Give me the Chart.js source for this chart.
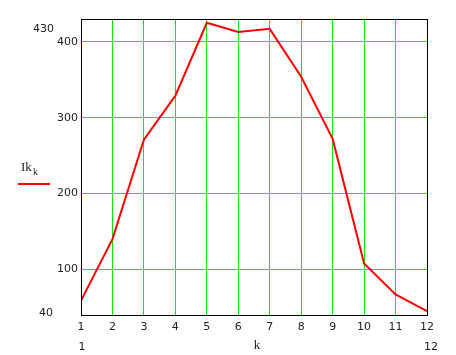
<!DOCTYPE html>
<html>
<head>
<meta charset="utf-8">
<script src="https://cdn.jsdelivr.net/npm/chart.js@4/dist/chart.umd.min.js"></script>
<style>
  html, body { margin: 0; padding: 0; background: #fff; }
  #wrap { width: 456px; height: 355px; position: relative; }
</style>
</head>
<body>
<div id="wrap"><canvas id="myChart" width="456" height="355"></canvas></div>
<script>
// data
var kValues = [1, 2, 3, 4, 5, 6, 7, 8, 9, 10, 11, 12];
var ikValues = [59, 140, 271, 329, 425, 413, 417, 354, 272, 108, 67, 45];
var yTicks = [100, 200, 300, 400];
var yMin = 40, yMax = 430;
var xMin = 1, xMax = 12;

var tickFont = { family: 'DejaVu Sans', size: 11 };
var textColor = '#222';
var gridColor = '#00ee00';

var points = [];
for (var i = 0; i < kValues.length; i++) {
    points.push({ x: kValues[i], y: ikValues[i] });
}

// draws the box, the limit labels, the axis name and the legend
var mathcadExtras = {
    id: 'mathcadExtras',
    afterDraw: function(chart) {
        var ctx = chart.ctx;
        var a = chart.chartArea;
        ctx.save();
        ctx.strokeStyle = '#000';
        ctx.lineWidth = 1;
        ctx.strokeRect(Math.round(a.left) + 0.5, Math.round(a.top) + 0.5,
            Math.round(a.right - a.left), Math.round(a.bottom - a.top));

        ctx.fillStyle = textColor;
        ctx.font = '11px "DejaVu Sans"';
        ctx.textBaseline = 'middle';
        ctx.textAlign = 'right';
        ctx.fillText(String(yMax), a.left - 27, a.top + 10);
        ctx.fillText(String(yMin), a.left - 28, a.bottom - 2);
        ctx.textAlign = 'center';
        ctx.fillText(String(xMin), a.left + 1, a.bottom + 32);
        ctx.fillText(String(xMax), a.right + 4, a.bottom + 32);

        ctx.font = '13px "Liberation Serif"';
        ctx.fillText('k', (a.left + a.right) / 2 + 3, a.bottom + 31);

        // legend
        ctx.textAlign = 'left';
        ctx.fillText('Ik', 21, 168);
        ctx.font = '10px "Liberation Serif"';
        ctx.fillText('k', 33, 172);
        ctx.strokeStyle = '#ff0000';
        ctx.lineWidth = 2;
        ctx.beginPath();
        ctx.moveTo(18, 184);
        ctx.lineTo(50, 184);
        ctx.stroke();
        ctx.restore();
    }
};

var ctx = document.getElementById('myChart').getContext('2d');
var chart = new Chart(ctx, {
    type: 'line',
    data: {
        datasets: [{
            label: 'Ik_k',
            data: points,
            borderColor: '#ff0000',
            borderWidth: 2,
            pointRadius: 0,
            tension: 0,
            fill: false
        }]
    },
    options: {
        responsive: false,
        animation: false,
        layout: { padding: { left: 0, top: 19, right: 29, bottom: 0 } },
        plugins: {
            legend: { display: false },
            tooltip: { enabled: false }
        },
        scales: {
            x: {
                type: 'linear',
                min: xMin,
                max: xMax,
                grid: { color: gridColor, lineWidth: 1, drawTicks: false },
                border: { display: false },
                ticks: {
                    stepSize: 1,
                    padding: 6,
                    color: textColor,
                    font: tickFont,
                    maxRotation: 0
                },
                afterFit: function(scale) { scale.height = 40; }
            },
            y: {
                min: yMin,
                max: yMax,
                grid: { color: gridColor, lineWidth: 1, drawTicks: false },
                border: { display: false },
                ticks: {
                    padding: 3,
                    color: textColor,
                    font: tickFont
                },
                afterBuildTicks: function(scale) {
                    scale.ticks = yTicks.map(function(v) { return { value: v }; });
                },
                afterFit: function(scale) { scale.width = 81; }
            }
        }
    },
    plugins: [mathcadExtras]
});
</script>
</body>
</html>
